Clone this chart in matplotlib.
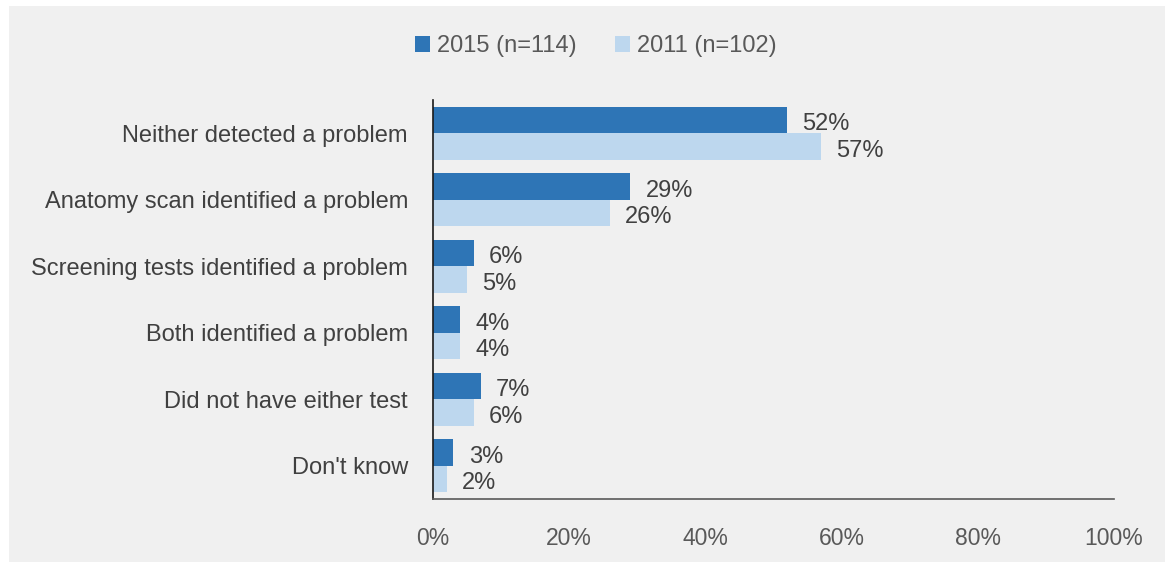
import matplotlib
matplotlib.use("Agg")
from matplotlib import pyplot as plt
from matplotlib.patches import Rectangle
import numpy as np

plt.rcParams['font.family'] = ['Liberation Sans', 'DejaVu Sans']

categories = ["Neither detected a problem", "Anatomy scan identified a problem",
              "Screening tests identified a problem", "Both identified a problem",
              "Did not have either test", "Don't know"]
vals_2015 = [52, 29, 6, 4, 7, 3]
vals_2011 = [57, 26, 5, 4, 6, 2]
series_names = ["2015 (n=114)", "2011 (n=102)"]
xticks = [0, 20, 40, 60, 80, 100]

dark = "#2E75B6"
light = "#BDD7EE"
bg = "#F0F0F0"

fig = plt.figure(figsize=(11.67, 5.62), dpi=100)
fig.patch.set_facecolor("white")
fig.patches.append(Rectangle((9 / 1167, 0), (1165 - 9) / 1167, 1 - 6 / 562,
                             transform=fig.transFigure, facecolor=bg,
                             edgecolor="none", zorder=-10))

ax = fig.add_axes([433 / 1167, 63 / 562, (1114 - 433) / 1167, (499 - 100) / 562])
ax.set_facecolor(bg)

y = np.arange(len(categories))
h = 0.4
b1 = ax.barh(y - h / 2, vals_2015, height=h, color=dark, label=series_names[0])
b2 = ax.barh(y + h / 2, vals_2011, height=h, color=light, label=series_names[1])

for bars, vals in ((b1, vals_2015), (b2, vals_2011)):
    for bar, v in zip(bars, vals):
        ax.annotate(f"{v}%", (v, bar.get_y() + bar.get_height() / 2),
                    xytext=(11, -3), textcoords="offset points",
                    va="center", ha="left", fontsize=17, color="#404040")

ax.set_ylim(len(categories) - 0.5, -0.5)
ax.set_xlim(0, 100)
ax.set_yticks(y)
ax.set_yticklabels(categories, fontsize=17, color="#404040")
ax.set_xticks(xticks)
ax.set_xticklabels([f"{t}%" for t in xticks], fontsize=16.5, color="#595959")
ax.tick_params(axis="both", length=0)
ax.tick_params(axis="x", pad=20)
ax.tick_params(axis="y", pad=18)

for s in ("top", "right"):
    ax.spines[s].set_visible(False)
ax.spines["left"].set_color("#1a1a1a")
ax.spines["left"].set_linewidth(1.2)
ax.spines["bottom"].set_color("#595959")
ax.spines["bottom"].set_linewidth(1.2)

fig.legend(handles=[b1, b2], loc="center", bbox_to_anchor=(596 / 1167, 1 - 46 / 562),
           ncol=2, frameon=False, fontsize=17, handlelength=0.65, handleheight=0.65,
           handletextpad=0.3, columnspacing=1.6, labelcolor="#595959")

fig.savefig("out.png", dpi=100, facecolor=fig.get_facecolor())
